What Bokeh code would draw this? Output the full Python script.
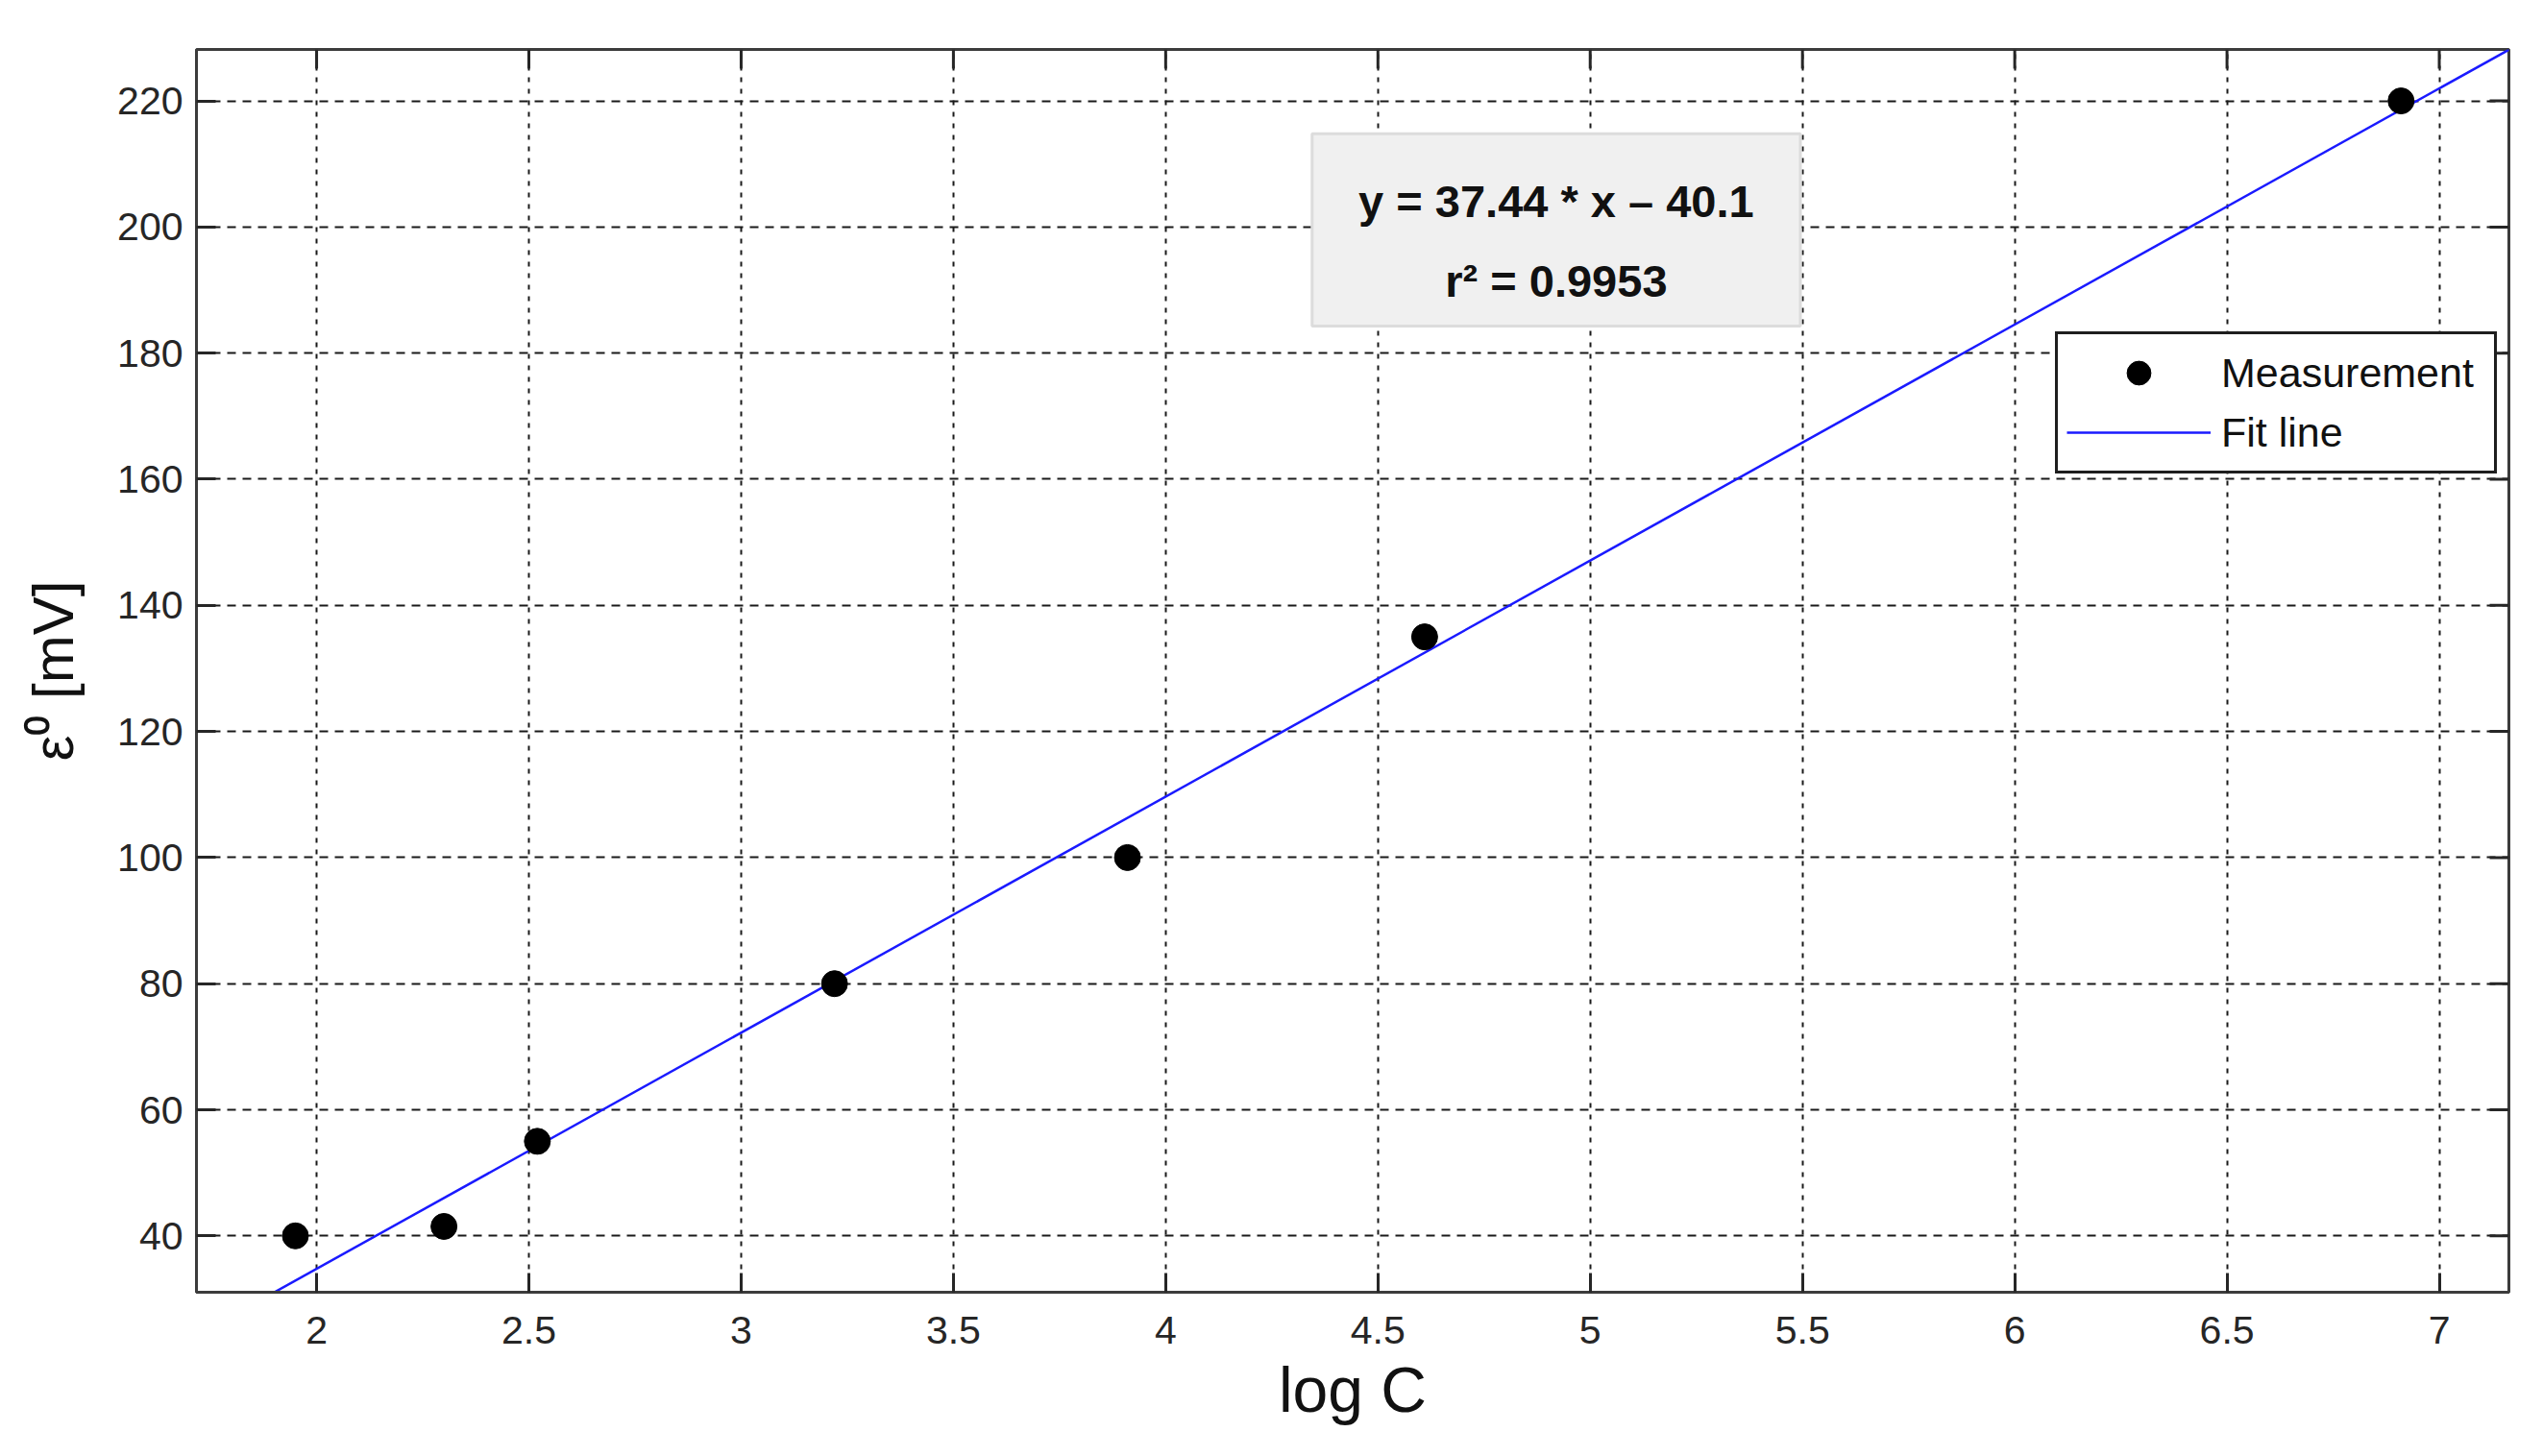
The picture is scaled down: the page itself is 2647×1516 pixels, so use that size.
from bokeh.plotting import figure
from bokeh.models import (Range1d, FixedTicker, Legend, LegendItem,
                          ColumnDataSource, BoxAnnotation, Label)
from bokeh.embed import file_html
from bokeh.resources import INLINE

# ---- data ----
log_c = [1.95, 2.30, 2.52, 3.22, 3.91, 4.61, 6.91]
eps0 = [40.0, 41.5, 55.0, 80.0, 100.0, 135.0, 220.0]
fit_slope = 37.44
fit_intercept = -40.1
r_squared = 0.9953
fit_x = [1.88, 7.20]
fit_y = [fit_slope * x + fit_intercept for x in fit_x]

x_ticks = [2, 2.5, 3, 3.5, 4, 4.5, 5, 5.5, 6, 6.5, 7]
x_tick_labels = ["2", "2.5", "3", "3.5", "4", "4.5", "5", "5.5", "6", "6.5", "7"]
y_ticks = [40, 60, 80, 100, 120, 140, 160, 180, 200, 220]
y_tick_labels = ["40", "60", "80", "100", "120", "140", "160", "180", "200", "220"]

FONT = "Liberation Sans"
X0, X1 = 1.717, 7.164
Y0, Y1 = 31.06, 228.16
W, H = 2630, 1510
BL, BR, BT, BB = 204, 19, 51, 165
FRAME_W = W - BL - BR
FRAME_H = H - BT - BB
TICK_LEN = 20

p = figure(width=W, height=H, output_backend="svg", toolbar_location=None,
           x_range=Range1d(X0, X1), y_range=Range1d(Y0, Y1),
           min_border_left=BL, min_border_right=BR, min_border_top=BT, min_border_bottom=BB,
           background_fill_color="white", border_fill_color="white")

p.outline_line_color = "#3c3c3c"
p.outline_line_width = 3

# grid
p.xgrid.ticker = FixedTicker(ticks=x_ticks)
p.ygrid.ticker = FixedTicker(ticks=y_ticks)
p.xgrid.grid_line_color = "#1a1a1a"
p.xgrid.grid_line_width = 2
p.xgrid.grid_line_dash = "5 7"
p.ygrid.grid_line_color = "#1a1a1a"
p.ygrid.grid_line_width = 2
p.ygrid.grid_line_dash = "9 7"


def style_axis(ax, ticks, labels):
    ax.ticker = FixedTicker(ticks=ticks)
    ax.major_label_overrides = {t: l for t, l in zip(ticks, labels)}
    ax.minor_tick_line_color = None
    ax.major_tick_in = TICK_LEN
    ax.major_tick_out = 0
    ax.major_tick_line_color = "#262626"
    ax.major_tick_line_width = 3
    ax.axis_line_color = "#3c3c3c"
    ax.axis_line_width = 3
    ax.major_label_text_font = FONT
    ax.major_label_text_color = "#262626"
    ax.major_label_text_font_size = "41px"


style_axis(p.xaxis[0], x_ticks, x_tick_labels)
style_axis(p.yaxis[0], y_ticks, y_tick_labels)
p.xaxis[0].major_label_standoff = 25
p.yaxis[0].major_label_standoff = 14

p.xaxis[0].axis_label = "log C"
p.xaxis[0].axis_label_text_font = FONT
p.xaxis[0].axis_label_text_font_size = "66px"
p.xaxis[0].axis_label_text_font_style = "normal"
p.xaxis[0].axis_label_text_color = "#111111"
p.xaxis[0].axis_label_standoff = 8

p.yaxis[0].axis_label = "ε⁰ [mV]"
p.yaxis[0].axis_label_text_font = FONT
p.yaxis[0].axis_label_text_font_size = "60px"
p.yaxis[0].axis_label_text_font_style = "normal"
p.yaxis[0].axis_label_text_color = "#111111"
p.yaxis[0].axis_label_standoff = 30

# inward ticks on the top and right edges (box on)
dy = TICK_LEN * (Y1 - Y0) / FRAME_H
dx = TICK_LEN * (X1 - X0) / FRAME_W
p.segment(x0=x_ticks, x1=x_ticks, y0=[Y1] * len(x_ticks), y1=[Y1 - dy] * len(x_ticks),
          line_color="#262626", line_width=3)
p.segment(x0=[X1] * len(y_ticks), x1=[X1 - dx] * len(y_ticks), y0=y_ticks, y1=y_ticks,
          line_color="#262626", line_width=3)

# glyphs
src_pts = ColumnDataSource(dict(x=log_c, y=eps0))
src_fit = ColumnDataSource(dict(x=fit_x, y=fit_y))
fit_r = p.line("x", "y", source=src_fit, line_color="#1a1aff", line_width=2.5)
pts_r = p.scatter("x", "y", source=src_pts, size=27, fill_color="black", line_color="black")

# equation box
box = BoxAnnotation(left=4.345, right=5.495, bottom=184.3, top=214.8,
                    fill_color="#f0f0f0", fill_alpha=1.0,
                    line_color="#dcdcdc", line_width=3, line_alpha=1.0)
p.add_layout(box)
eq1 = Label(x=4.92, y=204.1, text=f"y = {fit_slope} * x – {abs(fit_intercept)}",
            text_font=FONT, text_font_size="47px", text_font_style="bold",
            text_align="center", text_baseline="middle", text_color="#111111")
eq2 = Label(x=4.92, y=191.4, text=f"r² = {r_squared}",
            text_font=FONT, text_font_size="47px", text_font_style="bold",
            text_align="center", text_baseline="middle", text_color="#111111")
p.add_layout(eq1)
p.add_layout(eq2)

legend = Legend(items=[LegendItem(label="Measurement", renderers=[pts_r]),
                       LegendItem(label="Fit line", renderers=[fit_r])],
                location=(1935, 852))
legend.label_text_font = FONT
legend.label_text_font_size = "43px"
legend.label_text_color = "#111111"
legend.glyph_width = 150
legend.glyph_height = 62
legend.label_height = 62
legend.label_width = 275
legend.label_standoff = 11
legend.spacing = 0
legend.padding = 9
legend.margin = 0
legend.border_line_color = "#1e1e1e"
legend.border_line_alpha = 1.0
legend.border_line_width = 3
legend.background_fill_color = "white"
legend.background_fill_alpha = 1.0
p.add_layout(legend, "center")

open("out.html", "w").write(file_html(p, INLINE))
